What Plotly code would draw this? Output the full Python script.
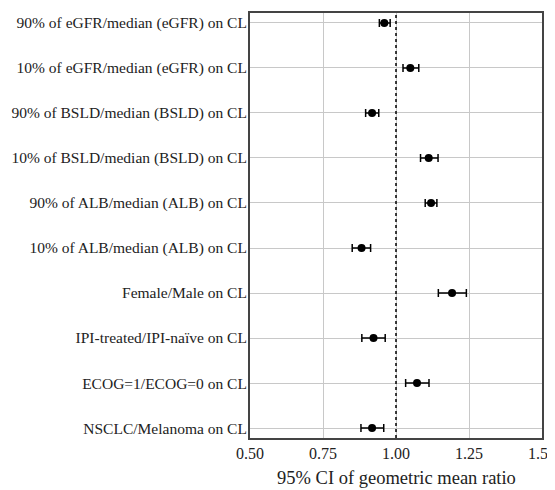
import plotly.graph_objects as go

categories = [
    "90% of eGFR/median (eGFR) on CL",
    "10% of eGFR/median (eGFR) on CL",
    "90% of BSLD/median (BSLD) on CL",
    "10% of BSLD/median (BSLD) on CL",
    "90% of ALB/median (ALB) on CL",
    "10% of ALB/median (ALB) on CL",
    "Female/Male on CL",
    "IPI-treated/IPI-naïve on CL",
    "ECOG=1/ECOG=0 on CL",
    "NSCLC/Melanoma on CL",
]
ratio = [0.960, 1.049, 0.918, 1.112, 1.120, 0.882, 1.192, 0.923, 1.072, 0.918]
lower = [0.943, 1.024, 0.896, 1.084, 1.100, 0.850, 1.145, 0.883, 1.033, 0.880]
upper = [0.980, 1.078, 0.941, 1.144, 1.140, 0.913, 1.241, 0.963, 1.113, 0.958]
x_ticks = [0.50, 0.75, 1.00, 1.25, 1.50]
x_tick_labels = ["0.50", "0.75", "1.00", "1.25", "1.50"]
x_title = "95% CI of geometric mean ratio"

err_plus = [u - r for u, r in zip(upper, ratio)]
err_minus = [r - l for r, l in zip(ratio, lower)]

font_family = "Liberation Serif, Times New Roman, serif"

fig = go.Figure()
fig.add_trace(go.Scatter(
    x=ratio, y=categories, mode="markers",
    marker=dict(color="black", size=8),
    error_x=dict(type="data", symmetric=False, array=err_plus, arrayminus=err_minus,
                 color="black", thickness=1.5, width=4),
    showlegend=False,
))

fig.add_shape(type="line", x0=1.0, x1=1.0, y0=0, y1=1, xref="x", yref="paper",
              line=dict(color="black", width=1.5, dash="dot"))

fig.add_annotation(text=x_title, xref="paper", yref="paper", x=0.5, y=0,
                   xanchor="center", yanchor="middle", yshift=-40, showarrow=False,
                   font=dict(size=18.5, family=font_family, color="#222"))

fig.update_layout(
    width=547, height=482,
    margin=dict(l=242, r=13, t=5, b=52),
    paper_bgcolor="white", plot_bgcolor="white",
    font=dict(family=font_family, size=16, color="#222"),
    xaxis=dict(
        range=[0.5, 1.5], tickvals=x_ticks, ticktext=x_tick_labels,
        showgrid=True, gridcolor="#c8c8c8", gridwidth=1,
        showline=True, linecolor="#444", linewidth=2, mirror=True,
        zeroline=False, ticks="", automargin=False,
        ticklabeloverflow="allow",
        tickfont=dict(size=16),
    ),
    yaxis=dict(
        categoryorder="array", categoryarray=categories[::-1],
        range=[-0.22, 9.22],
        showgrid=True, gridcolor="#c8c8c8", gridwidth=1,
        showline=True, linecolor="#444", linewidth=2, mirror=True,
        zeroline=False, ticks="", automargin=False,
        ticklabeloverflow="allow", ticklabelstandoff=-2,
        tickfont=dict(size=15.5),
    ),
)

fig.write_html("out.html")
